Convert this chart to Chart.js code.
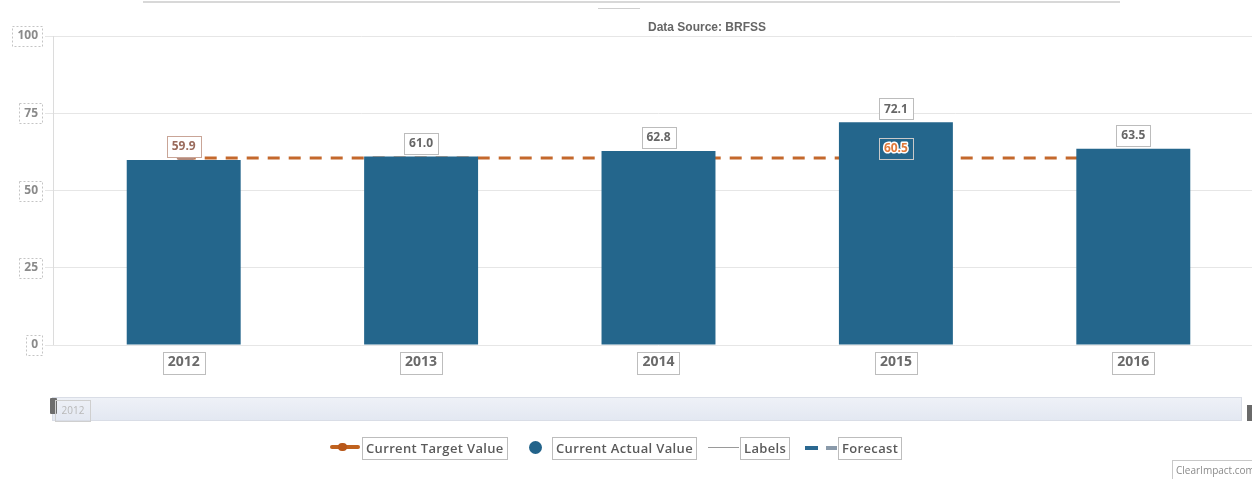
<!DOCTYPE html>
<html>
<head>
<meta charset="utf-8">
<script src="https://cdn.jsdelivr.net/npm/chart.js@4.4.1/dist/chart.umd.min.js"></script>
<style>
  html,body{margin:0;padding:0;background:#fff;width:1252px;height:479px;overflow:hidden;position:relative;font-family:"Open Sans",sans-serif;}
  #c{position:absolute;left:0;top:0;}
  .abs{position:absolute;}
  .title{left:0;width:1252px;top:20px;text-align:center;font:bold 12px "Liberation Sans",Arial,sans-serif;color:#666;padding-left:162px;box-sizing:border-box;}
  .lg{top:437px;height:21px;line-height:20px;font-size:13px;letter-spacing:0.35px;font-weight:600;color:#5a5a5a;border:1px solid #bdbdbd;padding:0 3px;white-space:nowrap;}
</style>
</head>
<body>
<canvas id="c" width="1252" height="479"></canvas>
<div class="abs" style="left:143px;top:1px;width:977px;height:2px;background:#d8d8d8;"></div>
<div class="abs" style="left:598px;top:8px;width:42px;height:1px;background:#cfcfcf;"></div>
<div class="abs title" id="title"></div>

<!-- navigator -->
<div class="abs" style="left:52px;top:397px;width:1188px;height:22px;border:1px solid #d9dde6;background:linear-gradient(#eef1f7,#e3e8f2);"></div>
<div class="abs" style="left:50px;top:398px;width:7px;height:16px;background:#6d6d6d;border-radius:1px;"></div>
<div class="abs" style="left:55px;top:400px;width:34px;height:20px;border:1px solid #cfcfcf;font-size:10px;color:#b8b8b8;line-height:18px;text-align:center;" id="navlab"></div>
<div class="abs" style="left:1247px;top:405px;width:5px;height:16px;background:#6a6a6a;"></div>

<!-- legend -->
<div class="abs" style="left:330px;top:445px;width:30px;height:4px;background:#c0621e;border-radius:2px;"></div>
<div class="abs" style="left:338px;top:443px;width:9px;height:8px;background:#b8581a;border-radius:4px;"></div>
<div class="abs lg" style="left:362px;" id="lg0"></div>
<div class="abs" style="left:529px;top:441px;width:13px;height:13px;background:#22638a;border-radius:50%;"></div>
<div class="abs lg" style="left:552px;" id="lg1"></div>
<div class="abs" style="left:708px;top:447px;width:31px;height:1px;background:#9a9a9a;"></div>
<div class="abs lg" style="left:740px;" id="lg2"></div>
<div class="abs" style="left:805px;top:446px;width:13px;height:4px;background:#2a6890;"></div>
<div class="abs" style="left:826px;top:446px;width:11px;height:4px;background:#8a9aaa;"></div>
<div class="abs lg" style="left:838px;" id="lg3"></div>
<div class="abs" style="left:1172px;top:460px;width:82px;height:20px;border:1px solid #c8c8c8;font-size:10px;color:#8a8a8a;line-height:19px;padding-left:3px;box-sizing:border-box;">ClearImpact.com</div>

<script>
const titleText = 'Data Source: BRFSS';
const categories = ['2012', '2013', '2014', '2015', '2016'];
const actualValues = [59.9, 61.0, 62.8, 72.1, 63.5];
const targetValues = [60.5, 60.5, 60.5, 60.5, 60.5];
const targetLabelShown = [false, false, false, true, false];
const yTickValues = [0, 25, 50, 75, 100];
const legendLabels = ['Current Target Value', 'Current Actual Value', 'Labels', 'Forecast'];

document.getElementById('title').textContent = titleText;
document.getElementById('navlab').textContent = categories[0];
legendLabels.forEach((t, i) => document.getElementById('lg' + i).textContent = t);

const boxesPlugin = {
  id: 'boxes',
  afterDraw(chart) {
    const ctx = chart.ctx;
    const xs = chart.scales.x, ys = chart.scales.y, ca = chart.chartArea;
    ctx.save();
    // y axis line
    ctx.strokeStyle = '#dcdcdc'; ctx.lineWidth = 1;
    ctx.beginPath(); ctx.moveTo(ca.left - 11.5, ca.top); ctx.lineTo(ca.left - 11.5, ca.bottom); ctx.stroke();
    // x tick boxes
    ctx.font = 'bold 14px "Open Sans"';
    categories.forEach((c, i) => {
      const x = xs.getPixelForTick(i);
      const w = ctx.measureText(c).width + 10;
      ctx.strokeStyle = '#bdbdbd';
      ctx.strokeRect(Math.round(x - w / 2) + 0.5, ca.bottom + 7.5, Math.round(w), 22);
    });
    // y tick boxes (dotted)
    ctx.font = 'bold 12px "Open Sans"';
    ctx.setLineDash([2, 2]);
    yTickValues.forEach(v => {
      const y = ys.getPixelForValue(v);
      const w = ctx.measureText(String(v)).width + 9;
      ctx.strokeStyle = '#c4c4c4';
      ctx.strokeRect(Math.round(ca.left - 23 - w) + 0.5, Math.round(y - 10) + 0.5, Math.round(w), 20);
    });
    ctx.setLineDash([]);
    ctx.restore();
  },
  afterDatasetsDraw(chart) {
    const ctx = chart.ctx;
    const barMeta = chart.getDatasetMeta(1);
    const lineMeta = chart.getDatasetMeta(0);
    ctx.save();
    // target marker at first point
    const p0 = lineMeta.data[0];
    ctx.strokeStyle = '#b48a7c'; ctx.lineWidth = 4; ctx.lineCap = 'round';
    ctx.beginPath(); ctx.moveTo(p0.x - 5, p0.y); ctx.lineTo(p0.x + 9, p0.y); ctx.stroke();
    ctx.lineCap = 'butt';
    ctx.font = 'bold 12px "Open Sans"';
    ctx.textAlign = 'center'; ctx.textBaseline = 'middle';
    barMeta.data.forEach((bar, i) => {
      const t = actualValues[i].toFixed(1);
      const w = Math.round(ctx.measureText(t).width + 10);
      const cy = bar.y - 14;
      ctx.fillStyle = '#fff';
      ctx.fillRect(Math.round(bar.x - w / 2), Math.round(cy - 10), w, 21);
      ctx.strokeStyle = i === 0 ? '#c9a597' : '#bcbcbc';
      ctx.lineWidth = 1;
      ctx.strokeRect(Math.round(bar.x - w / 2) + 0.5, Math.round(cy - 10) + 0.5, w, 21);
      ctx.fillStyle = i === 0 ? '#9a6b5c' : '#666';
      ctx.fillText(t, bar.x, cy + 1);
    });
    lineMeta.data.forEach((pt, i) => {
      if (!targetLabelShown[i]) return;
      const t = targetValues[i].toFixed(1);
      const w = Math.round(ctx.measureText(t).width + 10);
      const cy = pt.y - 10;
      ctx.strokeStyle = '#c9c9c9'; ctx.lineWidth = 1;
      ctx.strokeRect(Math.round(pt.x - w / 2) + 0.5, Math.round(cy - 10) + 0.5, w, 21);
      ctx.lineWidth = 3; ctx.strokeStyle = '#fff'; ctx.lineJoin = 'round';
      ctx.strokeText(t, pt.x, cy + 1);
      ctx.fillStyle = '#e0793a';
      ctx.fillText(t, pt.x, cy + 1);
    });
    ctx.restore();
  }
};

new Chart(document.getElementById('c'), {
  type: 'bar',
  data: {
    labels: categories,
    datasets: [
      {
        type: 'line', label: legendLabels[0], data: targetValues,
        borderColor: '#c4682c', borderWidth: 3, borderDash: [12, 9],
        pointRadius: 0, fill: false, order: 2
      },
      {
        type: 'bar', label: legendLabels[1], data: actualValues,
        backgroundColor: '#24668c', barPercentage: 0.48, categoryPercentage: 1, order: 1
      }
    ]
  },
  options: {
    responsive: false, animation: false,
    layout: { padding: { top: 36, right: 0, left: 0, bottom: 0 } },
    plugins: { legend: { display: false }, tooltip: { enabled: false }, title: { display: false } },
    scales: {
      x: {
        grid: { display: false, drawTicks: false }, border: { display: false },
        ticks: { color: '#6a6a6a', font: { family: 'Open Sans', size: 14, weight: 'bold' }, padding: 9 },
        afterFit(s) { s.height = 134; }
      },
      y: {
        min: 0, max: 100,
        afterBuildTicks(s) { s.ticks = yTickValues.map(v => ({ value: v })); },
        grid: { color: '#e6e6e6', tickLength: 20, drawTicks: true },
        border: { display: false },
        ticks: { color: '#8a8a8a', font: { family: 'Open Sans', size: 12, weight: 'bold' }, padding: 7 },
        afterFit(s) { s.width = 65; }
      }
    }
  },
  plugins: [boxesPlugin]
});
</script>
</body>
</html>
